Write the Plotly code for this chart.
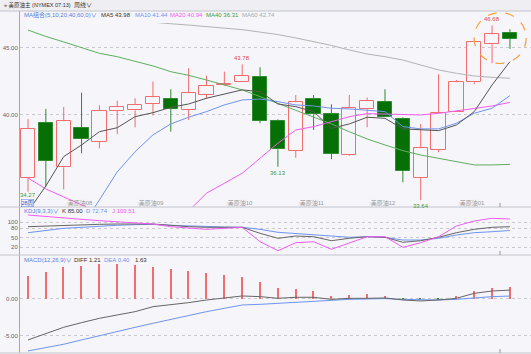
import plotly.graph_objects as go

W, H = 531, 354

# ---------------- data ----------------
idx = list(range(28))
opens  = [35.28, 39.43, 36.10, 39.05, 38.01, 40.32, 40.35, 40.82, 41.22, 40.37,
          41.49, 42.27, 42.44, 42.86, 39.53, 37.34, 41.17, 40.05, 37.01, 40.43,
          40.95, 39.68, 35.32, 37.39, 40.20, 42.44, 45.28, 46.10]
closes = [38.96, 36.59, 39.53, 38.23, 40.32, 40.60, 40.77, 41.32, 40.47, 41.62,
          42.19, 42.31, 42.91, 39.55, 37.44, 40.95, 40.05, 37.09, 40.52, 41.04,
          39.83, 35.82, 37.51, 40.13, 42.44, 45.47, 46.02, 45.66]
highs  = [39.70, 40.45, 40.60, 41.66, 40.72, 41.07, 41.25, 42.49, 41.92, 43.49,
          42.93, 43.23, 43.78, 43.56, 39.68, 41.49, 41.49, 40.80, 41.49, 41.30,
          41.92, 39.83, 39.33, 43.04, 42.61, 45.47, 46.68, 46.40]
lows   = [34.27, 34.65, 34.45, 37.14, 37.51, 38.56, 39.08, 39.95, 38.75, 39.63,
          41.19, 42.20, 42.44, 39.38, 36.13, 36.81, 38.88, 36.69, 36.95, 39.08,
          39.83, 34.98, 33.64, 37.22, 40.20, 42.29, 43.86, 44.93]

ma5  = [32.8, 34.7, 36.89, 37.76, 38.75, 39.05, 39.87, 40.17, 40.57, 40.82,
        41.25, 41.54, 41.87, 41.74, 40.82, 40.62, 40.25, 39.0, 39.33, 39.83,
        39.75, 38.96, 38.88, 38.83, 39.25, 40.25, 42.24, 43.98]
ma10 = [29.0, 30.2, 31.0, 31.6, 33.66, 35.75, 37.26, 38.51, 39.33, 39.83,
        40.25, 40.75, 41.12, 41.19, 40.99, 40.75, 40.67, 40.50, 40.45, 40.35,
        40.25, 39.13, 38.96, 38.96, 39.38, 40.13, 40.5, 41.44]
ma20 = [35.3, 34.48, 33.88, 33.28, 32.7, 32.2, 31.9, 31.8, 32.0, 32.84,
        34.16, 34.9, 35.65, 36.77, 37.89, 38.88, 39.13, 39.5, 39.87, 40.1,
        40.05, 40.0, 40.0, 40.12, 40.32, 40.5, 40.67, 40.94]
ma40 = [46.34, 45.86, 45.45, 45.0, 44.6, 44.35, 43.98, 43.66, 43.23, 42.96,
        42.61, 42.24, 41.87, 41.37, 40.87, 40.37, 39.88, 39.33, 38.75, 38.21,
        37.76, 37.34, 37.01, 36.77, 36.52, 36.27, 36.27, 36.31]
ma60 = [47.72, 47.6, 47.49, 47.38, 47.26, 47.15, 47.04, 46.93, 46.81, 46.71,
        46.57, 46.48, 46.37, 46.19, 46.0, 45.75, 45.49, 45.19, 44.85, 44.55,
        44.35, 44.1, 43.73, 43.36, 43.11, 42.91, 42.81, 42.74]

kdj_k = [85, 87.2, 90.4, 91.5, 92.5, 93.6, 93.6, 93.6, 89.4, 85, 83, 83, 83, 63.8,
         47.8, 55.2, 53, 40.2, 47.8, 53, 51, 35, 40.2, 51, 65.8, 76.5, 83, 85.0]
kdj_d = [65.8, 72.2, 79.7, 83, 87.2, 89.4, 91.5, 92.5, 89.4, 87.2, 85, 84, 83, 76.5,
         67, 63.8, 60.6, 55.2, 51, 53, 51, 42.4, 42.4, 47.8, 58.4, 65.8, 69, 72.74]
kdj_j = [122.4, 117, 111.7, 108.5, 104.3, 101, 99, 93.6, 85, 79.7, 76.5, 79.7, 83, 37,
         8.2, 33.8, 37, 12.6, 33.8, 53, 53, 19, 33.8, 53, 87.2, 103.2, 111.8, 109.51]

macd_hist = [3.14, 3.68, 4.32, 4.55, 4.73, 4.73, 4.59, 4.41, 4.05, 3.77, 3.59, 3.27, 3.0, 2.27,
             1.46, 1.36, 1.09, 0.45, 0.55, 0.64, 0.45, -0.08, -0.2, -0.1, 0.4, 1.14, 1.46, 1.63]
macd_diff = [-5.59, -4.68, -3.86, -3.23, -2.64, -2.18, -1.73, -1.05, -0.82, -0.5, -0.14, 0.18, 0.41, 0.32,
             0.09, 0.23, 0.23, -0.05, 0.09, 0.09, 0.14, -0.14, -0.27, -0.14, 0.09, 0.77, 1.09, 1.21]
macd_dea = [-7.09, -6.64, -6.18, -5.59, -5.05, -4.46, -3.87, -3.32, -2.77, -2.23, -1.73, -1.27, -0.82, -0.73,
            -0.59, -0.45, -0.27, -0.14, -0.05, 0.0, 0.05, -0.05, -0.14, -0.14, -0.05, 0.18, 0.32, 0.40]

month_idx = [2, 6, 11, 15, 19, 24]
month_labels = [":美原油08", ":美原油09", ":美原油10", ":美原油11", ":美原油12", ":美原油01"]

main_ticks = [40, 45]
main_ticktext = ["40.00", "45.00"]
kdj_ticks = [20, 50, 80, 100]
kdj_ticktext = ["20", "50", "80", "100"]
macd_ticks = [-5, 0]
macd_ticktext = ["-5.00", "0.00"]

# ---------------- style ----------------
BG = "#f5f5fa"
RED = "#f26d6d"
GREEN_FILL = "#067006"
GREEN_LINE = "#2e8b2e"
C_MA5 = "#555555"
C_MA10 = "#7094ee"
C_MA20 = "#f25cf2"
C_MA40 = "#5fae5f"
C_MA60 = "#b4b4b4"
FONT = "Liberation Sans, Noto Sans CJK SC, sans-serif"

def px_x(p):
    return p / W

def px_y(p):
    return 1 - p / H

# pixel layout
PLOT_L = 20
TOP_MAIN, BOT_MAIN = 11, 207
BOT_KDJ = 255
BOT_MACD = 353
x_range = [(PLOT_L - 28) / 17.85, (W - 28) / 17.85]

fig = go.Figure()

# ---------- candles ----------
up = [c >= o for o, c in zip(opens, closes)]
for is_up in (True, False):
    xs = [i for i in idx if up[i] == is_up]
    fig.add_trace(go.Bar(
        x=xs,
        y=[abs(closes[i] - opens[i]) for i in xs],
        base=[min(opens[i], closes[i]) for i in xs],
        width=0.8,
        marker=dict(color=BG if is_up else GREEN_FILL,
                    line=dict(color=RED if is_up else GREEN_LINE, width=1)),
        xaxis="x", yaxis="y", showlegend=False, hoverinfo="skip"))
    wx, wy = [], []
    for i in xs:
        top = max(opens[i], closes[i]); bot = min(opens[i], closes[i])
        wx += [i, i, None, i, i, None]
        wy += [highs[i], top, None, bot, lows[i], None]
    fig.add_trace(go.Scatter(x=wx, y=wy, mode="lines",
                             line=dict(color=RED if is_up else GREEN_LINE, width=1),
                             xaxis="x", yaxis="y", showlegend=False, hoverinfo="skip"))

# ---------- moving averages ----------
for vals, col in ((ma60, C_MA60), (ma40, C_MA40), (ma20, C_MA20), (ma10, C_MA10), (ma5, C_MA5)):
    fig.add_trace(go.Scatter(x=idx, y=vals, mode="lines", line=dict(color=col, width=1),
                             xaxis="x", yaxis="y", showlegend=False, hoverinfo="skip"))

# ---------- KDJ ----------
for vals, col in ((kdj_d, C_MA10), (kdj_k, "#666666"), (kdj_j, C_MA20)):
    fig.add_trace(go.Scatter(x=idx, y=vals, mode="lines", line=dict(color=col, width=1),
                             xaxis="x2", yaxis="y2", showlegend=False, hoverinfo="skip"))

# ---------- MACD ----------
fig.add_trace(go.Bar(x=idx, y=macd_hist, width=0.08,
                     marker=dict(color=[RED if v >= 0 else GREEN_LINE for v in macd_hist], line=dict(width=0)),
                     xaxis="x3", yaxis="y3", showlegend=False, hoverinfo="skip"))
for vals, col in ((macd_dea, C_MA10), (macd_diff, "#666666")):
    fig.add_trace(go.Scatter(x=idx, y=vals, mode="lines", line=dict(color=col, width=1),
                             xaxis="x3", yaxis="y3", showlegend=False, hoverinfo="skip"))

# ---------- axes ----------
xdom = [px_x(PLOT_L), 1]
ax_common = dict(range=x_range, visible=False, fixedrange=True)
ycommon = dict(showgrid=True, gridcolor="#c9c9cf", griddash="dot", gridwidth=1,
               showline=True, linecolor="#a8a8b0", linewidth=1, ticks="", zeroline=False,
               tickfont=dict(size=6, color="#666666", family=FONT), fixedrange=True)
fig.update_layout(
    xaxis=dict(domain=xdom, anchor="y", **ax_common),
    xaxis2=dict(domain=xdom, anchor="y2", **ax_common),
    xaxis3=dict(domain=xdom, anchor="y3", **ax_common),
    yaxis=dict(domain=[px_y(BOT_MAIN), px_y(TOP_MAIN)], range=[33.13, 47.76], anchor="x",
               tickvals=main_ticks, ticktext=main_ticktext, **ycommon),
    yaxis2=dict(domain=[px_y(BOT_KDJ), px_y(BOT_MAIN)], range=[-5.6, 148], anchor="x2",
                tickvals=kdj_ticks, ticktext=kdj_ticktext, **ycommon),
    yaxis3=dict(domain=[px_y(BOT_MACD), px_y(BOT_KDJ)], range=[-7.37, 6.0], anchor="x3",
                tickvals=macd_ticks, ticktext=macd_ticktext, **ycommon),
    barmode="overlay", bargap=0,
    width=W, height=H, margin=dict(l=0, r=0, t=0, b=0),
    paper_bgcolor=BG, plot_bgcolor=BG,
    font=dict(family=FONT, size=6, color="#333"),
    showlegend=False,
)

shapes = []
# header bar
shapes.append(dict(type="rect", xref="paper", yref="paper", x0=0, x1=1, y0=px_y(TOP_MAIN), y1=1,
                   fillcolor="#eeeef3", line=dict(width=0), layer="above"))
# legend band hiding lines under the MA legend
shapes.append(dict(type="rect", xref="paper", yref="paper", x0=px_x(PLOT_L + 1), x1=1,
                   y0=px_y(23), y1=px_y(TOP_MAIN + 0.5), fillcolor=BG, line=dict(width=0), layer="above"))
# separators
for py in (TOP_MAIN, BOT_MAIN, BOT_KDJ, BOT_MACD):
    shapes.append(dict(type="line", xref="paper", yref="paper", x0=0, x1=1, y0=px_y(py), y1=px_y(py),
                       line=dict(color="#c4c4cc", width=1), layer="above"))
# small marker ticks at x=500
for py in (BOT_MAIN, BOT_KDJ, BOT_MACD):
    shapes.append(dict(type="line", xref="paper", yref="paper", x0=px_x(500), x1=px_x(500),
                       y0=px_y(py), y1=px_y(py - 4), line=dict(color="#999", width=1), layer="above"))
# orange dashed highlight circle around last candles
cx = (idx[-1] + idx[-2]) / 2 - 0.05
cy = (closes[-1] + closes[-2]) / 2 - 0.1
shapes.append(dict(type="circle", xref="x", yref="y", x0=cx - 1.46, x1=cx + 1.46,
                   y0=cy - 1.9, y1=cy + 1.9, line=dict(color="#f7a13a", width=1.2, dash="dash"),
                   layer="above"))
fig.update_layout(shapes=shapes)

ann = []
def txt(x, y, s, color, size=6, anchor="left"):
    ann.append(dict(x=px_x(x), y=px_y(y), xref="paper", yref="paper", text=s, showarrow=False,
                    xanchor=anchor, yanchor="middle", font=dict(size=size, color=color, family=FONT)))

# header
txt(2, 5, "» 美原油主 (NYMEX 07:13)", "#333", 5.5)
txt(72, 5, "周线∨", "#333", 6)
# MA legend
txt(22, 15, "MA组合(5,10,20,40,60,0)∨", "#5b7be0", 6)
txt(99, 15, "MA5 43.98", "#333", 6)
txt(133, 15, "MA10 41.44", C_MA10, 6)
txt(168, 15, "MA20 40.94", C_MA20, 6)
txt(204, 15, "MA40 36.31", "#3c9a3c", 6)
txt(240, 15, "MA60 42.74", "#aaaaaa", 6)
# KDJ legend
txt(22, 210.5, "KDJ(9,3,3)∨", "#5b7be0", 6)
txt(60, 210.5, "K 85.00", "#333", 6)
txt(84, 210.5, "D 72.74", C_MA10, 6)
txt(110, 210.5, "J 109.51", C_MA20, 6)
# MACD legend
txt(22, 259.5, "MACD(12,26,9)∨", "#5b7be0", 6)
txt(72, 259.5, "DIFF 1.21", "#333", 6)
txt(102, 259.5, "DEA 0.40", C_MA10, 6)
txt(133, 259.5, "1.63", "#333", 6)

# month labels
for i, lab in zip(month_idx, month_labels):
    ann.append(dict(x=i, y=px_y(203.5), xref="x", yref="paper", text=lab, showarrow=False,
                    xanchor="left", yanchor="middle", font=dict(size=6, color="#999", family=FONT)))
# 28周 marker
ann.append(dict(x=px_x(21), y=px_y(203.2), xref="paper", yref="paper", text="28周", showarrow=False,
                xanchor="left", yanchor="middle", bordercolor="#5b7be0", borderwidth=0.5, borderpad=0,
                bgcolor=BG, font=dict(size=5.5, color="#3355bb", family=FONT)))

# high / low value labels
def hl(i, above, color, shift=1):
    ann.append(dict(x=i, y=highs[i] if above else lows[i], xref="x", yref="y",
                    text=f"{highs[i] if above else lows[i]:.2f}", showarrow=False,
                    xanchor="center", yanchor="bottom" if above else "top",
                    yshift=shift if above else -shift, font=dict(size=6, color=color, family=FONT)))
hl(12, True, "#e04848")
hl(26, True, "#e04848")
hl(0, False, "#3c9a3c", shift=-2)
hl(14, False, "#3c9a3c")
hl(22, False, "#3c9a3c")

fig.update_layout(annotations=ann)
fig.write_html("out.html")
